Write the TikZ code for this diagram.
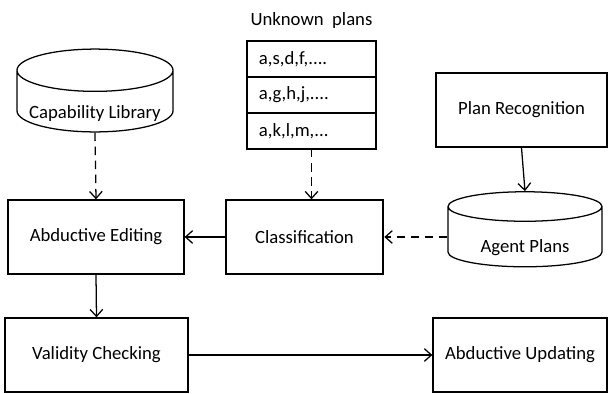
\documentclass[tikz,border=0pt]{standalone}
\usepackage{fontspec}
\setmainfont{Carlito}
\usetikzlibrary{
  positioning,
  shapes.geometric,
  arrows.meta
}

\tikzset{
  block/.style={draw,line width=0.9pt,minimum height=1.85cm,font=\fontsize{13.3}{15}\selectfont},
  store/.style={draw,line width=0.9pt,cylinder,shape border rotate=90,aspect=0.3,
    inner ysep=0pt,text height=0.65cm,text depth=0pt,font=\fontsize{13.3}{15}\selectfont},
  planrow/.style={draw,line width=0.9pt,outer sep=0pt,minimum width=3.225cm,minimum height=0.9cm,
    inner xsep=0.3cm,text width=2.625cm,align=left,font=\fontsize{13.3}{15}\selectfont},
  flow/.style={-{Straight Barb[length=5pt,width=9pt]},line width=0.9pt},
  hint/.style={flow,dash pattern=on 6pt off 4pt}
}

\begin{document}
\begin{tikzpicture}[x=0.025cm,y=-0.025cm]
    \useasboundingbox (0,0) rectangle (608,394);

    % stores and blocks
    \node[store,minimum width=3.9cm,minimum height=1.85cm] (caplib) at (95,105) {Capability Library};
    \node[block,minimum width=4.275cm] (planrec) at (521.5,110) {Plan Recognition};
    \node[store,minimum width=3.85cm,minimum height=1.875cm] (agplans) at (525,239.5) {Agent Plans};
    \node[block,minimum width=4.4cm] (abdedit) at (96,237) {Abductive Editing};
    \node[block,minimum width=3.925cm] (classif) at (304.5,237) {Classification};
    \node[block,minimum width=4.575cm] (validity) at (96.5,355) {Validity Checking};
    \node[block,minimum width=4.35cm] (abdupd) at (520,355) {Abductive Updating};

    % table of unknown plans
    \node[planrow] (plan1) at (311.5,59) {a,s,d,f,....};
    \node[planrow,below=0pt of plan1] (plan2) {a,g,h,j,....};
    \node[planrow,below=0pt of plan2] (plan3) {a,k,l,m,...};
    \node[above=0.2cm of plan1,font=\fontsize{13.3}{15}\selectfont] (unknown) {Unknown\ \ plans};

    % connections
    \draw[hint] (caplib.south) -- (abdedit.north);
    \draw[hint] (plan3.south) -- (plan3.south |- classif.north);
    \draw[flow] (planrec.south) -- (agplans.north);
    \draw[hint] (agplans.west |- classif.east) -- ++(-63,0);
    \draw[flow] (classif.west) -- (abdedit.east);
    \draw[flow] (abdedit.south) -- (validity.north);
    \draw[flow] (validity.east) -- (abdupd.west);
\end{tikzpicture}
\end{document}
